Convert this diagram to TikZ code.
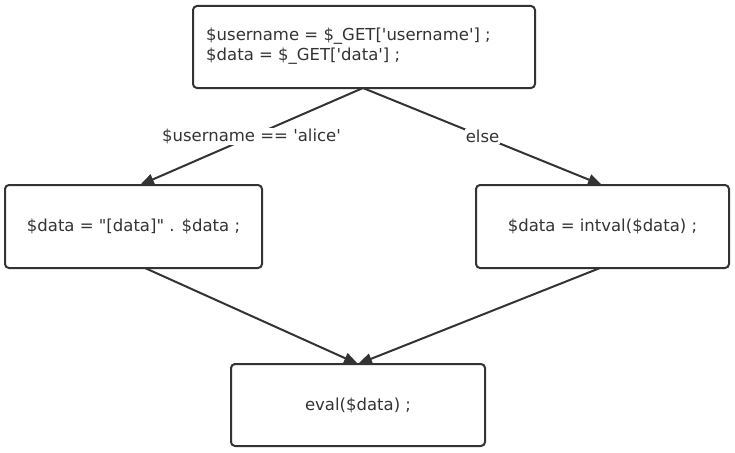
\documentclass[tikz,border=0pt]{standalone}
\usepackage{fontspec}
\setmainfont{DejaVu Sans}[Ligatures=TeXOff]
\usetikzlibrary{arrows.meta}
\definecolor{ink}{HTML}{333333}
\begin{document}
\begin{tikzpicture}[x=1pt,y=-1pt,
  txt/.style={font=\fontsize{16.5}{20}\selectfont,text=ink},
  box/.style={txt,draw=ink,line width=2pt,rounded corners=4pt,fill=white,inner sep=0pt},
  conn/.style={draw=ink,line width=2pt,-{Triangle[length=14pt,width=11pt]}},
  lbl/.style={txt,fill=white,inner sep=1pt}]
\useasboundingbox (0,0) rectangle (735,452);
\node[box,minimum width=342pt,minimum height=82pt] (top) at (364,47) {};
\node[txt,anchor=west,align=left,inner sep=0pt] (toptext) at (206,46) {\$username = \$\_GET['username'] ;\\\$data = \$\_GET['data'] ;};
\node[box,minimum width=257pt,minimum height=83pt] (left) at (133.5,226.5) {\$data = "[data]" . \$data ;};
\node[box,minimum width=253pt,minimum height=83pt] (right) at (602.5,226.5) {\$data = intval(\$data) ;};
\node[box,minimum width=254pt,minimum height=82pt] (bot) at (358,405) {eval(\$data) ;};
\coordinate (ts) at (363,88);
\coordinate (lt) at (140,185);
\coordinate (rt) at (602,185);
\coordinate (lb) at (145,268);
\coordinate (rb) at (600,268);
\coordinate (bt) at (358,364);
\draw[conn] (ts) -- (lt) node[lbl,pos=0.5] (l1) {\$username == 'alice'};
\draw[conn] (ts) -- (rt) node[lbl,pos=0.5] (l2) {else};
\draw[conn] (lb) -- (bt);
\draw[conn] (rb) -- (bt);
\end{tikzpicture}
\end{document}
